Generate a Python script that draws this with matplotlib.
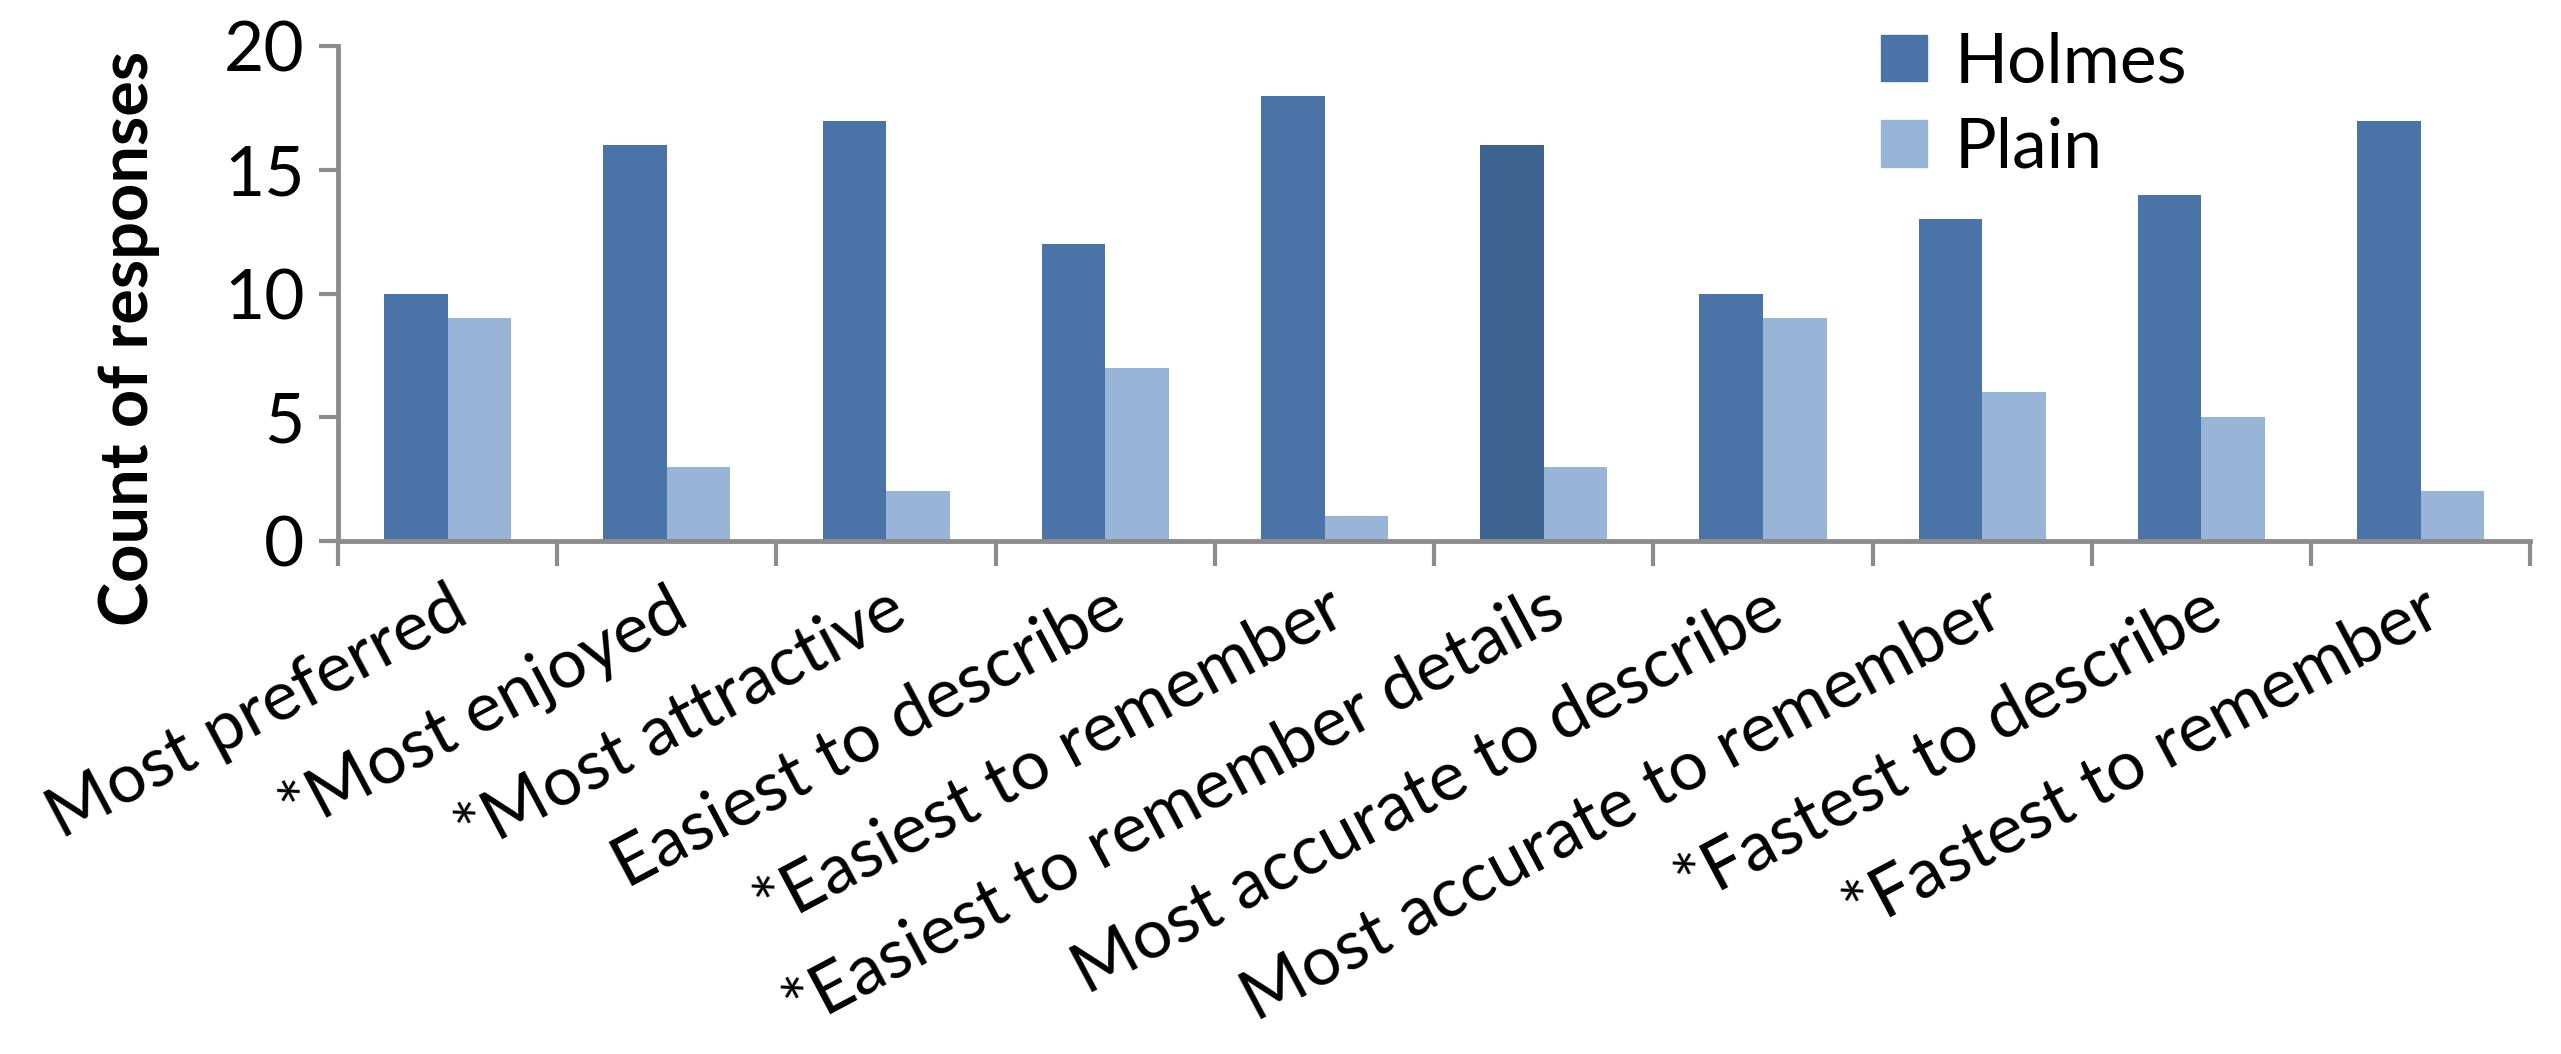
import numpy as np
import matplotlib
matplotlib.use("Agg")
import matplotlib.pyplot as plt
from matplotlib.patches import Patch

categories = ["Most preferred", "*Most enjoyed", "*Most attractive",
              "Easiest to describe", "*Easiest to remember",
              "*Easiest to remember details", "Most accurate to describe",
              "Most accurate to remember", "*Fastest to describe",
              "*Fastest to remember"]
holmes = [10, 16, 17, 12, 18, 16, 10, 13, 14, 17]
plain = [9, 3, 2, 7, 1, 3, 9, 6, 5, 2]

c_holmes = "#4A74A8"
c_holmes_dark = "#3D6490"
c_plain = "#98B4D6"
axis_grey = "#8C8C8C"

plt.rcParams['font.family'] = ['Lato', 'DejaVu Sans']

fig = plt.figure(figsize=(25.61, 10.54), dpi=100)
ax = fig.add_axes([0.132, 0.487, 0.856, 0.469])

x = np.arange(len(categories))
w = 0.29
hcols = [c_holmes] * len(categories)
hcols[5] = c_holmes_dark  # this one is drawn a shade darker in the original
ax.bar(x - w / 2, holmes, w, color=hcols, label="Holmes")
ax.bar(x + w / 2, plain, w, color=c_plain, label="Plain")

ax.set_xlim(-0.5, len(categories) - 0.5)
ax.set_ylim(0, 20)
ax.set_yticks([0, 5, 10, 15, 20])

for s in ["top", "right"]:
    ax.spines[s].set_visible(False)
for s in ["left", "bottom"]:
    ax.spines[s].set_color(axis_grey)
    ax.spines[s].set_linewidth(3.5)

# ticks sit between the groups, labels sit under the groups
ax.set_xticks(np.arange(-0.5, len(categories), 1.0))
ax.set_xticklabels([])
ax.set_xticks(x, minor=True)
ax.set_xticklabels(categories, minor=True, rotation=28, ha="right", va="top",
                   rotation_mode="anchor", fontsize=50)
ax.tick_params(axis="x", which="major", length=18, width=3, color=axis_grey)
ax.tick_params(axis="x", which="minor", length=0, pad=26)
ax.tick_params(axis="y", length=14, width=3, color=axis_grey, labelsize=50, pad=10)

ax.set_ylabel("Count of responses", fontsize=48, fontweight="bold")
ax.yaxis.set_label_coords(-0.081, 0.41)

handles = [Patch(color=c_holmes), Patch(color=c_plain)]
ax.legend(handles, ["Holmes", "Plain"], loc="upper left", bbox_to_anchor=(0.704, 1.03),
          frameon=False, fontsize=50, handlelength=0.65, handleheight=0.65,
          handletextpad=0.4, labelspacing=0.32, borderpad=0, borderaxespad=0)

fig.savefig("out.png", dpi=100)
